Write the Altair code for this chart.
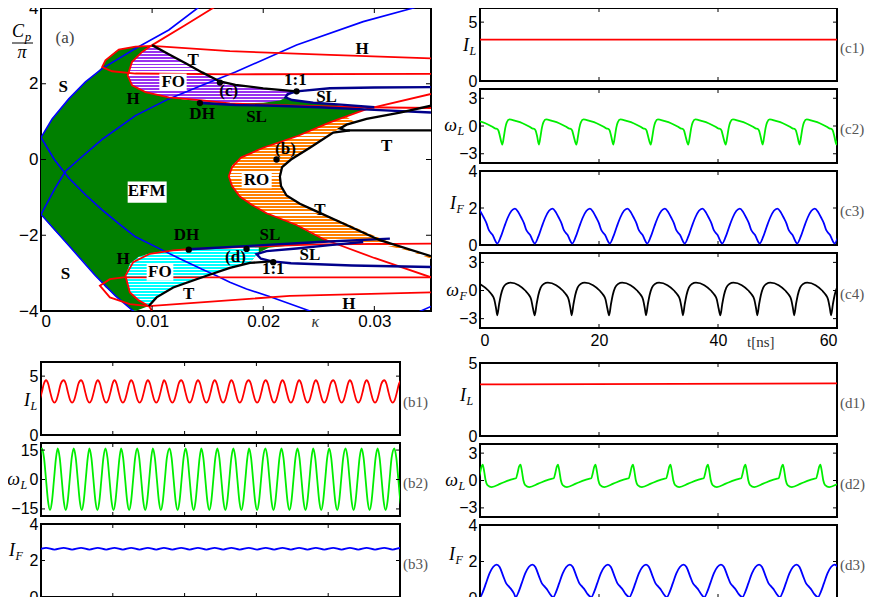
import altair as alt
import pandas as pd

# ================= Panel (a): bifurcation diagram =================
A_XDOM = [0, 0.0351]
A_YDOM = [-4, 4]
A_XTICKS = [0, 0.01, 0.02, 0.03]
A_YTICKS = [-4, -2, 0, 2, 4]

# thin blue curves (x, y)
BLUE = {
    "B1": [(0, 0.58), (0.001, 1.07), (0.0025, 1.6), (0.004, 2.05), (0.0055, 2.4), (0.0085, 2.93),
           (0.0115, 3.42), (0.0141, 4.0), (0.0145, 4.06)],
    "B2": [(0, -1.45), (0.0025, -2.27), (0.0049, -3.07), (0.0067, -3.6), (0.0083, -4.0), (0.0086, -4.06)],
    "B3": [(0, 0.58), (0.0012, 0.0), (0.0025, -0.49), (0.004, -0.93), (0.0055, -1.33), (0.007, -1.69),
           (0.0085, -2.04), (0.0107, -2.36), (0.0125, -2.62), (0.0145, -2.9), (0.0158, -3.07),
           (0.017, -3.24), (0.0185, -3.42), (0.0205, -3.61), (0.0242, -4.0), (0.0248, -4.06)],
    "B4": [(0, -1.45), (0.00126, -0.76), (0.0022, -0.31), (0.0034, 0.0), (0.0055, 0.53), (0.0085, 1.16),
           (0.0115, 1.6), (0.0145, 1.96), (0.0175, 2.31), (0.023, 3.02), (0.029, 3.64), (0.0335, 4.0),
           (0.034, 4.05)],
    "B5": [(0.0338, -4.05), (0.0351, -3.88)],
}
# red Hopf / boundary curves
RED = {
    "R1": [(0.0351, 2.67), (0.026, 2.76), (0.017, 2.86), (0.01, 3.0), (0.0085, 2.98), (0.007, 2.9),
           (0.0058, 2.62), (0.0055, 2.44), (0.0064, 2.33), (0.0085, 2.27), (0.0175, 2.25), (0.0351, 2.26)],
    "R2": [(0.0157, 4.04), (0.013, 3.55), (0.01, 3.02), (0.0091, 2.84), (0.0082, 2.58), (0.0078, 2.22),
           (0.0082, 1.96), (0.0094, 1.78), (0.0115, 1.64), (0.0145, 1.56), (0.017, 1.48), (0.023, 1.42),
           (0.029, 1.38), (0.0351, 1.36)],
    "R3": [(0.0351, 1.73), (0.0293, 1.33), (0.026, 0.98), (0.0231, 0.62), (0.02, 0.31), (0.018, 0.05),
           (0.0172, -0.2), (0.0169, -0.44), (0.0172, -0.7), (0.0179, -0.98), (0.019, -1.2), (0.0203, -1.42),
           (0.023, -1.73), (0.0254, -2.1), (0.03, -2.6), (0.0351, -3.11)],
    "R4": [(0.0351, -3.51), (0.0224, -3.6), (0.015, -3.76), (0.0097, -3.87), (0.008, -3.82), (0.0062, -3.64),
           (0.0053, -3.33), (0.0062, -3.16), (0.0074, -3.11), (0.015, -3.11), (0.0351, -3.11)],
    "R5": [(0.0101, -4.04), (0.0097, -3.87), (0.0088, -3.72), (0.008, -3.51), (0.0076, -3.07), (0.0083, -2.71),
           (0.0098, -2.49), (0.0119, -2.4), (0.0133, -2.37), (0.0188, -2.3), (0.025, -2.24), (0.0351, -2.22)],
}
# dark blue saddle-node (SL) curves
NAVY = {
    "N1": [(0.0143, 1.49), (0.0175, 1.44), (0.021, 1.42), (0.025, 1.38), (0.03, 1.31), (0.0351, 1.24)],
    "N2": [(0.0351, 1.91), (0.03, 1.9), (0.026, 1.88), (0.023, 1.8), (0.0222, 1.73), (0.022, 1.64),
           (0.0226, 1.57), (0.0245, 1.5), (0.027, 1.45), (0.03, 1.38)],
    "N3": [(0.0133, -2.37), (0.0188, -2.28), (0.025, -2.18), (0.0314, -2.09)],
    "N4": [(0.0351, -2.84), (0.028, -2.8), (0.0225, -2.74), (0.0208, -2.69), (0.0198, -2.62), (0.0194, -2.5),
           (0.0203, -2.42), (0.023, -2.35), (0.026, -2.26), (0.029, -2.18)],
}
# black torus curves
BLACK = {
    "K1": [(0.01, 3.02), (0.0115, 2.78), (0.0131, 2.53), (0.0145, 2.3), (0.0161, 2.06), (0.0175, 1.97),
           (0.02, 1.88), (0.023, 1.8)],
    "K2": [(0.0351, 1.42), (0.0323, 1.24), (0.0293, 1.07), (0.0275, 0.92), (0.0269, 0.82), (0.0274, 0.77),
           (0.0278, 0.77), (0.0351, 0.77)],
    "K3": [(0.0278, 0.77), (0.0263, 0.71), (0.0252, 0.5), (0.0242, 0.31), (0.0225, 0.0), (0.0217, -0.2),
           (0.0215, -0.45), (0.0216, -0.7), (0.0221, -0.95), (0.0233, -1.17), (0.0245, -1.33),
           (0.0275, -1.73), (0.0305, -2.13), (0.0351, -2.55)],
    "K4": [(0.0097, -3.87), (0.0104, -3.64), (0.0119, -3.38), (0.0149, -3.07), (0.017, -2.86),
           (0.0188, -2.73), (0.0208, -2.69)],
}

# filled regions: x, lower, upper
GREEN_X = [0, 0.001, 0.0025, 0.004, 0.0049, 0.0055, 0.0058, 0.0067, 0.007, 0.0083, 0.0085, 0.0097,
           0.0104, 0.0115, 0.0119, 0.0131, 0.0145, 0.0149, 0.0161, 0.017, 0.0175, 0.0188, 0.0194,
           0.02, 0.0205, 0.0215, 0.0222, 0.0245, 0.025, 0.0262, 0.02625, 0.028, 0.0293]
GREEN_HI = [0.58, 1.07, 1.6, 2.05, 2.25, 2.44, 2.62, 2.85, 2.9, 2.98, 2.98, 3.0,
            2.92, 2.78, 2.72, 2.53, 2.3, 2.24, 2.06, 2.0, 1.97, 1.93, 1.9,
            1.88, 1.86, 1.83, 1.6, 1.5, 1.48, 1.45, 1.45, 1.38, 1.33]
GREEN_LO = [-1.45, -1.8, -2.27, -2.75, -3.07, -3.27, -3.37, -3.6, -3.68, -4.0, -4.0, -3.87,
            -3.64, -3.45, -3.38, -3.22, -3.1, -3.07, -2.95, -2.86, -2.82, -2.73, -2.5,
            -2.4, -2.33, -2.3, -2.28, -2.22, -2.2, -2.17, 1.0, 1.2, 1.33]

ORANGE_X = [0.0169, 0.0172, 0.018, 0.019, 0.02, 0.0215, 0.0231, 0.0245, 0.026, 0.0275, 0.0282,
            0.029, 0.031, 0.033, 0.0351]
ORANGE_HI = [-0.44, -0.15, 0.05, 0.18, 0.31, 0.45, 0.62, 0.8, 0.98, 1.12, 1.0, 0.77, 0.77, 0.77, 0.77]
ORANGE_LO = [-0.44, -0.7, -1.0, -1.2, -1.38, -1.56, -1.75, -1.98, -2.15, -2.2, -2.21, -2.22, -2.27,
             -2.4, -2.62]

WHITE_X = [0.0215, 0.0217, 0.0221, 0.0225, 0.0233, 0.0242, 0.0252, 0.0263, 0.0269, 0.0278, 0.0293,
           0.0323, 0.0351]
WHITE_HI = [-0.45, -0.2, -0.08, 0.0, 0.15, 0.31, 0.5, 0.71, 0.82, 0.93, 1.07, 1.24, 1.42]
WHITE_LO = [-0.45, -0.75, -0.95, -1.05, -1.17, -1.27, -1.4, -1.55, -1.62, -1.73, -1.93, -2.3, -2.55]

PURPLE_X = [0.0078, 0.0082, 0.0091, 0.01, 0.0115, 0.0131, 0.0145, 0.0161, 0.0175, 0.02, 0.0215,
            0.022, 0.0228]
PURPLE_HI = [2.22, 2.58, 2.84, 3.02, 2.78, 2.53, 2.3, 2.06, 1.97, 1.88, 1.83, 1.82, 1.8]
PURPLE_LO = [2.22, 1.96, 1.82, 1.74, 1.64, 1.58, 1.53, 1.5, 1.48, 1.5, 1.56, 1.64, 1.78]

CYAN_X = [0.0076, 0.008, 0.0088, 0.0097, 0.0104, 0.0119, 0.0133, 0.0149, 0.0165, 0.0188, 0.0196]
CYAN_HI = [-3.07, -2.75, -2.57, -2.49, -2.45, -2.4, -2.37, -2.35, -2.32, -2.29, -2.3]
CYAN_LO = [-3.07, -3.51, -3.72, -3.87, -3.64, -3.38, -3.2, -3.07, -2.92, -2.73, -2.45]

DOTS_X = [0.0143, 0.0161, 0.023, 0.0212, 0.0133, 0.0185, 0.0209]
DOTS_Y = [1.49, 2.03, 1.8, 0.0, -2.38, -2.36, -2.71]

LABELS = [("S", 0.002, 1.91), ("S", 0.0022, -3.02), ("H", 0.0083, 1.6), ("FO", 0.0119, 2.04),
          ("T", 0.0137, 2.62), ("(c)", 0.0169, 1.82), ("DH", 0.0145, 1.2), ("SL", 0.0194, 1.11),
          ("1:1", 0.0229, 2.09), ("SL", 0.0257, 1.64), ("H", 0.0289, 2.93), ("T", 0.0311, 0.36),
          ("(b)", 0.022, 0.27), ("RO", 0.0194, -0.53), ("EFM", 0.0095, -0.84), ("T", 0.0251, -1.33),
          ("DH", 0.0131, -2.0), ("SL", 0.0206, -2.0), ("SL", 0.0242, -2.53), ("H", 0.0074, -2.62),
          ("(d)", 0.0175, -2.58), ("1:1", 0.0209, -2.89), ("FO", 0.0107, -2.98), ("T", 0.0133, -3.56),
          ("H", 0.0277, -3.82)]
# white boxes behind FO / RO / EFM labels: x0, x1, y0, y1
BOXES = [(0.01065, 0.01311, 1.82, 2.27), (0.01806, 0.02076, -0.76, -0.31),
         (0.0078, 0.01131, -1.14, -0.58), (0.00951, 0.01191, -3.2, -2.76)]

# ================= time series =================
C_XTICKS = [0, 20, 40, 60]
B_XTICKS = [0, 10, 20, 30, 40, 50]

C1_T = [0, 60]
C1_V = [3.52, 3.52]
C2_DT = [0, 0.25, 0.5, 0.75, 1.2, 2.2, 3.4, 4.5, 5.1, 5.35, 5.6, 5.85]
C2_V = [-2.0, -1.2, -0.2, 0.4, 0.72, 0.55, 0.3, -0.05, -0.28, -0.3, -0.5, -1.1]
C2_START = [-2.5, 3.75, 9.9, 16.2, 22.4, 28.7, 35.0, 41.3, 47.5, 53.7, 59.9]
C3_DT = [0, 0.6, 1.2, 1.8, 2.4, 2.97, 3.5, 4.0, 4.5, 4.9, 5.2, 5.5, 5.8, 6.1]
C3_V = [0.08, 0.45, 1.0, 1.5, 1.85, 1.97, 1.8, 1.5, 1.17, 0.8, 0.66, 0.55, 0.35, 0.15]
C3_START = [-3.4, 2.9, 9.2, 15.5, 21.8, 28.1, 34.4, 40.7, 47.0, 53.3, 59.6]
C4_DT = [0, 0.3, 0.6, 1.0, 1.5, 2.2, 3.6, 4.7, 5.3, 5.7, 6.0]
C4_V = [-2.64, -1.5, -0.5, 0.3, 0.7, 0.83, 0.57, 0.0, -0.45, -0.95, -1.9]
C4_START = [-3.3, 2.9, 9.2, 15.4, 21.7, 27.9, 34.1, 40.4, 46.6, 52.8, 59.0]

B1_DT = [0, 0.3, 0.6, 0.9, 1.17, 1.45, 1.75, 2.05]
B1_V = [4.65, 4.35, 3.6, 2.95, 2.75, 2.95, 3.6, 4.35]
B1_START = [-1.65, 0.7, 3.16, 5.58, 7.91, 10.23, 12.56, 14.88, 17.12, 19.53, 21.86, 24.19, 26.51,
            28.93, 31.3, 33.63, 35.95, 38.28, 40.7, 43.02, 45.35, 47.81, 50.16]
B2_DT = [0, 0.28, 0.56, 0.84, 1.115, 1.39, 1.67, 1.95]
B2_V = [15.8, 11.0, 0.0, -11.0, -15.6, -11.0, 0.0, 11.0]
B2_START = [-2.1, 0.14, 2.33, 4.56, 6.74, 8.98, 11.16, 13.4, 15.58, 17.91, 20.14, 22.33, 24.56, 26.79,
            28.98, 31.26, 33.49, 35.72, 37.91, 40.14, 42.42, 44.65, 46.88, 49.21]
B3_DT = [0, 1.17]
B3_V = [2.69, 2.6]

D1_T = [0, 60]
D1_V = [3.53, 3.6]
D2_DT = [0, 0.25, 0.5, 0.8, 1.5, 3.0, 4.5, 5.2, 5.6, 5.85, 6.1]
D2_V = [1.73, 1.0, 0.0, -0.5, -0.72, -0.35, 0.05, 0.18, 0.25, 0.8, 1.5]
D2_START = [-5.85, 0.45, 6.8, 13.1, 19.4, 25.7, 32.0, 38.3, 44.6, 50.9, 57.2]
D3_DT = [0, 0.5, 1.0, 1.6, 2.2, 2.8, 3.3, 3.9, 4.4, 4.8, 5.2, 5.7]
D3_V = [0.05, 0.35, 0.8, 1.35, 1.7, 1.83, 1.7, 1.2, 0.8, 0.65, 0.5, 0.25]
D3_START = [-6.3, 0.0, 6.0, 12.3, 18.7, 25.1, 31.4, 37.7, 44.1, 50.4, 56.8]

SERIF = "Liberation Serif"
SANS = "Liberation Sans"
ONE = pd.DataFrame({"k": [0]})


def cycles(dts, vals, starts):
    rows = []
    for s in starts:
        for dt, v in zip(dts, vals):
            rows.append((s + dt, v))
    rows.sort()
    return pd.DataFrame(rows, columns=["t", "v"])


def curves_df(curves):
    rows = []
    for name, pts in curves.items():
        for i, (x, y) in enumerate(pts):
            rows.append({"curve": name, "i": i, "x": x, "y": y})
    return pd.DataFrame(rows)


def stripes(color, n, frac):
    stops = []
    for k in range(n):
        a, b, c = k / n, (k + frac) / n, (k + 1) / n
        stops += [alt.GradientStop(offset=a, color=color), alt.GradientStop(offset=b, color=color),
                  alt.GradientStop(offset=b, color="white"), alt.GradientStop(offset=c, color="white")]
    return alt.Gradient(gradient="linear", stops=stops, x1=0, x2=0, y1=0, y2=1)


# ---------- build panel (a) ----------
AW, AH = 390, 303
xs_a = alt.Scale(domain=A_XDOM, nice=False, zero=False)
ys_a = alt.Scale(domain=A_YDOM, nice=False, zero=False)
xax_a = alt.Axis(values=A_XTICKS, format="~g", title=None, labelFontSize=17, labelPadding=2)
yax_a = alt.Axis(values=A_YTICKS, format="d", title=None, labelFontSize=17, labelPadding=3)


def AX(f):
    return alt.X(f, type="quantitative", scale=xs_a, axis=xax_a)


def AY(f):
    return alt.Y(f, type="quantitative", scale=ys_a, axis=yax_a)


def region(xv, lo, hi, fill):
    df = pd.DataFrame({"x": xv, "lo": lo, "hi": hi})
    return alt.Chart(df).mark_area(color=fill, clip=True, strokeWidth=0).encode(
        x=AX("x"), y=AY("lo"), y2=alt.Y2("hi"))


def lines(curves, color, width):
    return alt.Chart(curves_df(curves)).mark_line(color=color, strokeWidth=width, clip=True).encode(
        x=AX("x"), y=AY("y"), detail="curve:N", order="i:Q")


a_layers = [
    region(GREEN_X, GREEN_LO, GREEN_HI, "#008000"),
    region(ORANGE_X, ORANGE_LO, ORANGE_HI, stripes("#ff8000", 46, 0.62)),
    region(WHITE_X, WHITE_LO, WHITE_HI, "white"),
    region(PURPLE_X, PURPLE_LO, PURPLE_HI, stripes("#9933ee", 19, 0.55)),
    region(CYAN_X, CYAN_LO, CYAN_HI, stripes("#00ffff", 20, 0.55)),
    lines(BLUE, "#0000ff", 1.6),
    lines(RED, "#ff0000", 1.8),
    lines(NAVY, "#00008b", 2.4),
    lines(BLACK, "black", 2.3),
]
box_df = pd.DataFrame(BOXES, columns=["x0", "x1", "y0", "y1"])
a_layers.append(alt.Chart(box_df).mark_rect(color="white").encode(
    x=AX("x0"), x2=alt.X2("x1"), y=AY("y0"), y2=alt.Y2("y1")))
lab_df = pd.DataFrame(LABELS, columns=["text", "x", "y"])
a_layers.append(alt.Chart(lab_df).mark_text(font=SERIF, fontWeight="bold", fontSize=17,
                                            baseline="middle").encode(x=AX("x"), y=AY("y"), text="text:N"))
dots_df = pd.DataFrame({"x": DOTS_X, "y": DOTS_Y})
a_layers.append(alt.Chart(dots_df).mark_point(filled=True, color="black", size=40, opacity=1).encode(
    x=AX("x"), y=AY("y")))
# inward ticks
xt_df = pd.DataFrame({"x": A_XTICKS})
yt_df = pd.DataFrame({"y": A_YTICKS})
a_layers += [
    alt.Chart(xt_df).mark_rule(color="black").encode(x=AX("x"), y=alt.value(0), y2=alt.value(5)),
    alt.Chart(xt_df).mark_rule(color="black").encode(x=AX("x"), y=alt.value(AH - 5), y2=alt.value(AH)),
    alt.Chart(yt_df).mark_rule(color="black").encode(y=AY("y"), x=alt.value(0), x2=alt.value(5)),
    alt.Chart(yt_df).mark_rule(color="black").encode(y=AY("y"), x=alt.value(AW - 5), x2=alt.value(AW)),
]
# labels (a), kappa, Cp/pi
a_layers += [
    alt.Chart(ONE).mark_text(font=SERIF, fontSize=17, color="#444", align="center").encode(
        x=alt.value(24), y=alt.value(30), text=alt.value("(a)")),
    alt.Chart(pd.DataFrame({"x": [0.0247]})).mark_text(font=SERIF, fontStyle="italic", fontSize=16,
                                                          color="#333").encode(
        x=AX("x"), y=alt.value(AH + 11), text=alt.value("κ")),
    alt.Chart(ONE).mark_text(font=SERIF, fontStyle="italic", fontSize=18, align="center").encode(
        x=alt.value(-23), y=alt.value(24), text=alt.value("C")),
    alt.Chart(ONE).mark_text(font=SERIF, fontStyle="italic", fontSize=13, align="center").encode(
        x=alt.value(-13), y=alt.value(29), text=alt.value("p")),
    alt.Chart(ONE).mark_rule(color="black", strokeWidth=1).encode(
        x=alt.value(-29), x2=alt.value(-8), y=alt.value(35)),
    alt.Chart(ONE).mark_text(font=SERIF, fontStyle="italic", fontSize=18, align="center").encode(
        x=alt.value(-19), y=alt.value(45), text=alt.value("π")),
]
panel_a = alt.layer(*a_layers).properties(width=AW, height=AH)


# ---------- time series panel builder ----------
def ts_panel(df, color, ydom, yticks, xdom, xticks, w, h, tag, glyph, sub, gx, gy, gdy=0,
             xlabels=False, extra=None):
    xs = alt.Scale(domain=xdom, nice=False, zero=False)
    ys = alt.Scale(domain=ydom, nice=False, zero=False)
    xax = alt.Axis(values=xticks, labels=xlabels, format="d", title=None, labelPadding=4)
    yax = alt.Axis(values=yticks, format="d", title=None, labelPadding=3)

    def X(f):
        return alt.X(f, type="quantitative", scale=xs, axis=xax)

    def Y(f):
        return alt.Y(f, type="quantitative", scale=ys, axis=yax)

    layers = [alt.Chart(df).mark_line(color=color, strokeWidth=1.8, clip=True,
                                      interpolate="monotone").encode(x=X("t"), y=Y("v"))]
    xt = pd.DataFrame({"t": xticks})
    yt = pd.DataFrame({"v": yticks})
    layers += [
        alt.Chart(xt).mark_rule(color="black").encode(x=X("t"), y=alt.value(0), y2=alt.value(4)),
        alt.Chart(xt).mark_rule(color="black").encode(x=X("t"), y=alt.value(h - 4), y2=alt.value(h)),
        alt.Chart(yt).mark_rule(color="black").encode(y=Y("v"), x=alt.value(0), x2=alt.value(4)),
        alt.Chart(yt).mark_rule(color="black").encode(y=Y("v"), x=alt.value(w - 4), x2=alt.value(w)),
    ]
    gdf = pd.DataFrame({"v": [gy]})
    layers += [
        alt.Chart(gdf).mark_text(font=SERIF, fontStyle="italic", fontSize=18, align="right",
                                 baseline="middle", dy=gdy).encode(
            x=alt.value(gx), y=Y("v"), text=alt.value(glyph)),
        alt.Chart(gdf).mark_text(font=SERIF, fontStyle="italic", fontSize=12, align="left",
                                 baseline="middle", dy=gdy + 5).encode(
            x=alt.value(gx + 0.5), y=Y("v"), text=alt.value(sub)),
        alt.Chart(ONE).mark_text(font=SERIF, fontSize=15, color="#555", align="left",
                                 baseline="middle").encode(
            x=alt.value(w + 3), y=alt.value(h / 2 + 3), text=alt.value(tag)),
    ]
    if extra:
        layers += [alt.Chart(pd.DataFrame({"t": [extra[0]]})).mark_text(
            font=SERIF, fontSize=15, color="#333", baseline="middle").encode(
            x=X("t"), y=alt.value(h + extra[1]), text=alt.value(extra[2]))]
    return alt.layer(*layers).properties(width=w, height=h)


def spacer(w, h):
    return alt.Chart(ONE).mark_point(opacity=0).properties(
        width=w, height=h, view=alt.ViewBackground(stroke="transparent"))


CW = 357
BW = 359
c1 = ts_panel(pd.DataFrame({"t": C1_T, "v": C1_V}), "#ff0000", [0, 6.2], [0, 5], [0, 60], C_XTICKS,
              CW, 73, "(c1)", "I", "L", -11, 2.95)
c2 = ts_panel(cycles(C2_DT, C2_V, C2_START), "#00ee00", [-4, 4], [-3, 0, 3], [0, 60], C_XTICKS,
              CW, 74, "(c2)", "ω", "L", -23, 0)
c3 = ts_panel(cycles(C3_DT, C3_V, C3_START), "#0000ff", [0, 4], [0, 2, 4], [0, 60], C_XTICKS,
              CW, 74, "(c3)", "I", "F", -24, 2.2)
c4 = ts_panel(cycles(C4_DT, C4_V, C4_START), "black", [-4, 4], [-3, 0, 3], [0, 60], C_XTICKS,
              CW, 75, "(c4)", "ω", "F", -21, 0, xlabels=True, extra=(47.2, 14, "t[ns]"))
d1 = ts_panel(pd.DataFrame({"t": D1_T, "v": D1_V}), "#ff0000", [0, 5], [0, 5], [0, 60], C_XTICKS,
              CW, 73, "(d1)", "I", "L", -14, 2.74)
d2 = ts_panel(cycles(D2_DT, D2_V, D2_START), "#00ee00", [-4, 4], [-3, 0, 3], [0, 60], C_XTICKS,
              CW, 73, "(d2)", "ω", "L", -22, 0)
d3 = ts_panel(cycles(D3_DT, D3_V, D3_START), "#0000ff", [0, 4], [0, 2, 4], [0, 60], C_XTICKS,
              CW, 73, "(d3)", "I", "F", -25, 2.36)
b1 = ts_panel(cycles(B1_DT, B1_V, B1_START), "#ff0000", [0, 6.2], [0, 5], [0, 50], B_XTICKS,
              BW, 73, "(b1)", "I", "L", -11, 2.9)
b2 = ts_panel(cycles(B2_DT, B2_V, B2_START), "#00ee00", [-18.6, 18.6], [-15, 0, 15], [0, 50], B_XTICKS,
              BW, 73, "(b2)", "ω", "L", -21, 0)
b3 = ts_panel(cycles(B3_DT, B3_V, B1_START), "#0000ff", [0, 4], [0, 2, 4], [0, 50], B_XTICKS,
              BW, 73, "(b3)", "I", "F", -26, 2.5)

left = alt.vconcat(panel_a, spacer(AW, 35), b1, b2, b3, spacing=8, bounds="flush")
right = alt.vconcat(c1, c2, c3, c4, spacer(CW, 19), d1, d2, d3, spacing=8, bounds="flush")

chart = alt.hconcat(left, right, spacing=10).properties(
    autosize=alt.AutoSizeParams(type="none"),
    padding={"left": 33, "top": 0, "right": 826, "bottom": 589},
).configure_view(stroke="black", strokeWidth=2).configure_axis(
    labelFont=SANS, labelFontSize=16, labelColor="black", ticks=False, domain=False, grid=False,
).configure_text(color="black")

chart.save("out.html", embed_options={"renderer": "svg", "actions": False})
